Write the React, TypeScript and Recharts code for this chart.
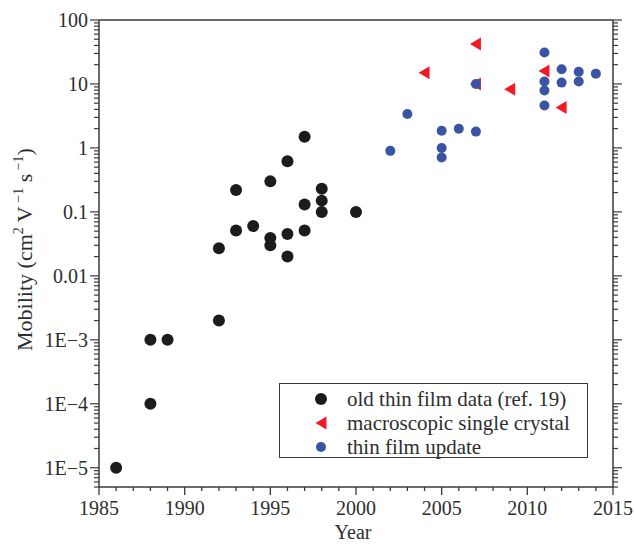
import React from "react";
import { ScatterChart, Scatter, XAxis, YAxis, Legend } from "recharts";

// ---- data ----
const oldYears = [1986, 1988, 1988, 1989, 1992, 1992, 1993, 1993, 1994, 1995, 1995, 1995, 1996, 1996, 1996, 1997, 1997, 1997, 1998, 1998, 1998, 2000];
const oldValues = [1e-5, 1e-4, 1e-3, 1e-3, 0.002, 0.027, 0.22, 0.051, 0.06, 0.3, 0.039, 0.03, 0.62, 0.045, 0.02, 1.5, 0.13, 0.051, 0.23, 0.15, 0.1, 0.1];

const crystalYears = [2004, 2007, 2007, 2009, 2011, 2012];
const crystalValues = [15, 42, 10, 8.3, 15.9, 4.3];

const updateYears = [2002, 2003, 2005, 2005, 2005, 2006, 2007, 2007, 2011, 2011, 2011, 2011, 2012, 2012, 2013, 2013, 2014];
const updateValues = [0.9, 3.4, 1.85, 1.0, 0.71, 2.0, 1.8, 10, 31, 10.9, 7.9, 4.6, 17, 10.5, 15.5, 10.9, 14.5];

const seriesNames = ["old thin film data (ref. 19)", "macroscopic single crystal", "thin film update"];

const xMajorTicks = [1985, 1990, 1995, 2000, 2005, 2010, 2015];
const xAllTicks = Array.from({ length: 31 }, (_, i) => 1985 + i);

const yMajorTicks = [1e-5, 1e-4, 1e-3, 0.01, 0.1, 1, 10, 100];
const yTickLabels = ["1E\u22125", "1E\u22124", "1E\u22123", "0.01", "0.1", "1", "10", "100"];
const yMinorMultipliers = [2, 3, 4, 5, 6, 7, 8, 9];

const yAllTicks: number[] = [5e-6, 6e-6, 7e-6, 8e-6, 9e-6];
yMajorTicks.forEach((d, i) => {
  yAllTicks.push(d);
  if (i < yMajorTicks.length - 1) yMinorMultipliers.forEach((m) => yAllTicks.push(+(m * d).toPrecision(3)));
});

const toPoints = (xs: number[], ys: number[]) => xs.map((x, i) => ({ x, y: ys[i] }));
const oldData = toPoints(oldYears, oldValues);
const crystalData = toPoints(crystalYears, crystalValues);
const updateData = toPoints(updateYears, updateValues);

// ---- style ----
const AXIS = "#3a3a3a";
const TEXT = "#2e2e2e";
const FONT = "'Liberation Serif', 'Times New Roman', serif";
const BLACK = "#1c1c1c";
const RED = "#ee1d25";
const BLUE = "#3a54a4";

const yMajorIndex = (v: number) => yMajorTicks.findIndex((d) => Math.abs(v - d) / d < 1e-6);

const BottomTick = (props: any) => {
  const { x, y, payload } = props;
  const major = xMajorTicks.includes(payload.value);
  return (
    <g>
      <line x1={x} x2={x} y1={y} y2={y + (major ? 8 : 4)} stroke={AXIS} strokeWidth={1.3} />
      {major && (
        <text x={x} y={y + 28} textAnchor="middle" fontFamily={FONT} fontSize={20} fill={TEXT}>
          {payload.value}
        </text>
      )}
    </g>
  );
};

const TopTick = (props: any) => {
  const { x, y, payload } = props;
  const major = xMajorTicks.includes(payload.value);
  return <line x1={x} x2={x} y1={y} y2={y + (major ? 8 : 5)} stroke={AXIS} strokeWidth={1.3} />;
};

const LeftTick = (props: any) => {
  const { x, y, payload } = props;
  const idx = yMajorIndex(payload.value);
  const major = idx >= 0;
  return (
    <g>
      <line x1={x - (major ? 9 : 5)} x2={x} y1={y} y2={y} stroke={AXIS} strokeWidth={1.2} />
      {major && (
        <text x={x - 11} y={y} dy="0.35em" textAnchor="end" fontFamily={FONT} fontSize={20} fill={TEXT}>
          {yTickLabels[idx]}
        </text>
      )}
    </g>
  );
};

const RightTick = (props: any) => {
  const { x, y, payload } = props;
  const major = yMajorIndex(payload.value) >= 0;
  return <line x1={x} x2={x + (major ? 9 : 5)} y1={y} y2={y} stroke={AXIS} strokeWidth={1.2} />;
};

const YLabel = (props: any) => {
  const vb = props.viewBox || { x: 0, y: 20, width: 99, height: 467 };
  const cx = 32;
  const cy = vb.y + vb.height / 2 - 4;
  return (
    <text
      x={cx}
      y={cy}
      transform={`rotate(-90 ${cx} ${cy})`}
      textAnchor="middle"
      fontFamily={FONT}
      fontSize={22}
      fill={TEXT}
    >
      <tspan>Mobility (cm</tspan>
      <tspan dy={-9} fontSize={14}>2</tspan>
      <tspan dy={9}> V</tspan>
      <tspan dy={-9} fontSize={14}> {"\u22121"}</tspan>
      <tspan dy={9}> s</tspan>
      <tspan dy={-9} fontSize={14}> {"\u22121"}</tspan>
      <tspan dy={9}>)</tspan>
    </text>
  );
};

const XLabel = (props: any) => {
  const vb = props.viewBox || { x: 99, y: 487, width: 514, height: 63 };
  return (
    <text x={vb.x + vb.width / 2 - 3} y={539} textAnchor="middle" fontFamily={FONT} fontSize={20} fill={TEXT}>
      Year
    </text>
  );
};

const circleShape = (r: number, fill: string) => (p: any) => <circle cx={p.cx} cy={p.cy} r={r} fill={fill} />;
const triangleShape = (p: any) => {
  const { cx, cy } = p;
  return <polygon points={`${cx - 6},${cy} ${cx + 5},${cy - 6.5} ${cx + 5},${cy + 6.5}`} fill={RED} />;
};

const LegendIcon = ({ kind }: { kind: number }) => (
  <svg width={14} height={14} style={{ position: "absolute", left: 34, top: 5 }}>
    {kind === 0 && <circle cx={7} cy={7} r={6} fill={BLACK} />}
    {kind === 1 && <polygon points="1.5,7 12.5,0.5 12.5,13.5" fill={RED} />}
    {kind === 2 && <circle cx={7} cy={7} r={5} fill={BLUE} />}
  </svg>
);

const LegendContent = () => (
  <div style={{ position: "relative", width: "100%", height: "100%" }}>
    {seriesNames.map((name, i) => (
      <div
        key={name}
        style={{
          position: "absolute",
          left: 0,
          top: 3 + i * 24,
          height: 24,
          width: "100%",
        }}
      >
        <LegendIcon kind={i} />
        <span
          style={{
            position: "absolute",
            left: 67,
            top: 0,
            lineHeight: "24px",
            fontFamily: FONT,
            fontSize: 21,
            color: TEXT,
            whiteSpace: "nowrap",
          }}
        >
          {name}
        </span>
      </div>
    ))}
  </div>
);

export default function App() {
  return (
    <div style={{ position: "absolute", left: 0, top: 0, width: 634, height: 550, background: "#fff" }}>
      <ScatterChart width={634} height={550} margin={{ top: 0, right: 0, bottom: 0, left: 0 }}>
        <XAxis
          xAxisId={0}
          dataKey="x"
          type="number"
          domain={[1985, 2015]}
          ticks={xAllTicks}
          interval={0}
          height={63}
          tickSize={0}
          tickMargin={0}
          tick={BottomTick}
          axisLine={{ stroke: AXIS, strokeWidth: 1.5 }}
          allowDataOverflow
          label={<XLabel />}
        />
        <XAxis
          xAxisId="top"
          orientation="top"
          type="number"
          domain={[1985, 2015]}
          ticks={xAllTicks}
          interval={0}
          height={20}
          tickSize={0}
          tickMargin={0}
          tick={TopTick}
          axisLine={{ stroke: AXIS, strokeWidth: 1.5 }}
          allowDataOverflow
        />
        <YAxis
          yAxisId={0}
          dataKey="y"
          type="number"
          scale="log"
          domain={[5e-6, 100]}
          ticks={yAllTicks}
          interval={0}
          width={99}
          tickSize={0}
          tickMargin={0}
          tick={LeftTick}
          axisLine={{ stroke: AXIS, strokeWidth: 1.5 }}
          allowDataOverflow
          label={<YLabel />}
        />
        <YAxis
          yAxisId="right"
          orientation="right"
          type="number"
          scale="log"
          domain={[5e-6, 100]}
          ticks={yAllTicks}
          interval={0}
          width={21}
          tickSize={0}
          tickMargin={0}
          tick={RightTick}
          axisLine={{ stroke: AXIS, strokeWidth: 1.5 }}
          allowDataOverflow
        />
        <Scatter name={seriesNames[0]} data={oldData} xAxisId={0} yAxisId={0} shape={circleShape(6, BLACK)} isAnimationActive={false} />
        <Scatter name={seriesNames[1]} data={crystalData} xAxisId={0} yAxisId={0} shape={triangleShape} isAnimationActive={false} />
        <Scatter name={seriesNames[2]} data={updateData} xAxisId={0} yAxisId={0} shape={circleShape(5, BLUE)} isAnimationActive={false} />
        <Legend
          layout="vertical"
          align="center"
          verticalAlign="middle"
          content={<LegendContent />}
          wrapperStyle={{
            left: 279,
            top: 383,
            width: 309,
            height: 75,
            border: `1.3px solid ${AXIS}`,
            boxSizing: "border-box",
            background: "#fff",
          }}
        />
      </ScatterChart>
    </div>
  );
}
